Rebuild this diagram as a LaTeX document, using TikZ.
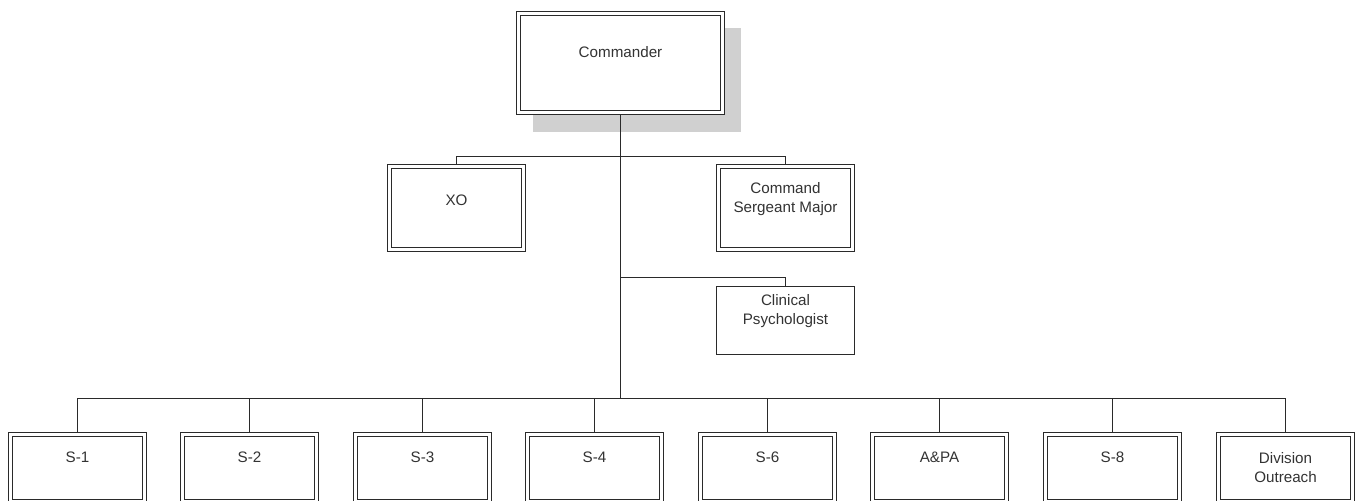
\documentclass[tikz,border=0pt]{standalone}
\usepackage{fontspec}
\setmainfont{Liberation Sans}
\usetikzlibrary{backgrounds}
\definecolor{edge}{HTML}{2A2A2A}
\definecolor{ink}{HTML}{333333}
\definecolor{shadowgray}{HTML}{D0D0D0}
\begin{document}
\begin{tikzpicture}[x=0.75pt,y=-0.75pt,
  unit/.style={draw=edge, line width=0.75pt, double=white, double distance=2.25pt,
    fill=white, inner sep=0pt, minimum width=100.5pt, minimum height=62.25pt},
  plainbox/.style={draw=edge, line width=0.75pt, fill=white, inner sep=0pt,
    minimum width=103.5pt, minimum height=51pt},
  lbl/.style={font=\fontsize{11.4pt}{14.25pt}\selectfont, text=ink, align=center, inner sep=0pt},
  lblone/.style={lbl, text height=8.2pt, text depth=0pt},
  link/.style={draw=edge, line width=0.75pt}]
\useasboundingbox (0,0) rectangle (1363,500);

% command group
\node[unit, minimum width=153pt, minimum height=74.25pt] (cmd) at (620.5,63) {};
\node[lblone] (cmdT) at (620.5,52.5) {Commander};

\node[unit] (xo) at (456.5,208) {};
\node[lblone] (xoT) at (456.5,200) {XO};

\node[unit] (csm) at (785.5,208) {};
\node[lbl] (csmT) at (785.5,199.5) {Command\\Sergeant Major};

\node[plainbox] (clin) at (785.5,320.5) {};
\node[lbl] (clinT) at (785.5,311) {Clinical\\Psychologist};

% staff sections
\foreach \name/\txt/\x in {s1/S-1/77.5, s2/S-2/249.5, s3/S-3/422.5, s4/S-4/594.5,
    s6/S-6/767.5, apa/A\&PA/939.5, s8/S-8/1112.5} {
  \node[unit, minimum height=50.25pt] (\name) at (\x,468) {};
  \node[lblone] (\name T) at (\x,457) {\txt};
}
\node[unit, minimum height=50.25pt] (div) at (1285.5,468) {};
\node[lbl] (divT) at (1285.5,467.5) {Division\\Outreach};

% bus levels
\coordinate (busA) at (620.5,156.5);
\coordinate (busC) at (620.5,277.5);
\coordinate (busB) at (620.5,398.5);

\begin{scope}[on background layer]
  \fill[shadowgray] (533,28) rectangle (741,132);
  \draw[link] (cmd.south) -- (busB);
  \draw[link] (xo.north) |- (busA) -| (csm.north);
  \draw[link] (clin.north) |- (busC);
  \draw[link] (s1.north) |- (busB) -| (div.north);
  \foreach \name in {s2,s3,s4,s6,apa,s8}
    \draw[link] (\name.north) -- (\name.north |- busB);
\end{scope}
\end{tikzpicture}
\end{document}
